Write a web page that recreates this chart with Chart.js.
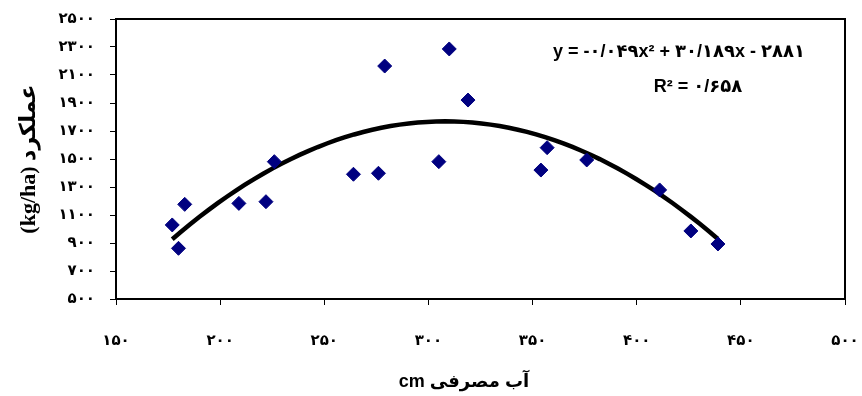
<!DOCTYPE html>
<html>
<head>
<meta charset="utf-8">
<script src="https://cdn.jsdelivr.net/npm/chart.js@4.4.1/dist/chart.umd.min.js"></script>
<style>
  html, body { margin: 0; padding: 0; background: #fff; }
  #wrap { width: 862px; height: 396px; }
</style>
</head>
<body>
<div id="wrap"><canvas id="chart" width="862" height="396"></canvas></div>
<script>
// water used (cm) vs yield (kg/ha)
const waterUsed = [177, 180, 183, 209, 222, 226, 264, 276, 279, 305, 310, 319, 354, 357, 376, 411, 426, 439];
const yieldKg = [1029, 862, 1176, 1183, 1195, 1481, 1391, 1398, 2164, 1481, 2286, 1921, 1421, 1581, 1493, 1279, 986, 893];

// trendline from the equation printed on the chart: a*x^2 + b*x + c
const trendCoef = [-0.049, 30.189, -2881];

const xTickLabels = ["۱۵۰", "۲۰۰", "۲۵۰", "۳۰۰", "۳۵۰", "۴۰۰", "۴۵۰", "۵۰۰"];
const yTickLabels = ["۵۰۰", "۷۰۰", "۹۰۰", "۱۱۰۰", "۱۳۰۰", "۱۵۰۰", "۱۷۰۰", "۱۹۰۰", "۲۱۰۰", "۲۳۰۰", "۲۵۰۰"];

const eqLine1 = "y = -۰/۰۴۹x² + ۳۰/۱۸۹x - ۲۸۸۱";
const eqLine2 = "R² = ۰/۶۵۸";
const xTitle = "آب مصرفی cm";
const yTitle = "(kg/ha) عملکرد";

const trendPts = [];
const xMin = Math.min(...waterUsed), xMax = Math.max(...waterUsed);
for (let i = 0; i <= 60; i++) {
  const x = xMin + (xMax - xMin) * i / 60;
  trendPts.push({ x, y: trendCoef[0] * x * x + trendCoef[1] * x + trendCoef[2] });
}

const frame = {
  id: "frame",
  beforeDatasetsDraw(chart) {
    const { ctx, chartArea: a } = chart;
    ctx.save();
    ctx.strokeStyle = "#000";
    ctx.lineWidth = 2;
    ctx.strokeRect(a.left, a.top, a.right - a.left, a.bottom - a.top);
    ctx.restore();
  },
  afterDraw(chart) {
    const { ctx } = chart;
    ctx.save();
    ctx.fillStyle = "#000";
    ctx.textAlign = "center";
    ctx.textBaseline = "middle";
    ctx.font = 'bold 18px "Liberation Sans", "DejaVu Sans", sans-serif';
    ctx.fillText(eqLine1, 679, 52);
    ctx.fillText(eqLine2, 698, 87);
    ctx.direction = "rtl";
    ctx.fillText(xTitle, 464, 382);
    ctx.restore();
  }
};

const tickFont = { family: '"DejaVu Sans", sans-serif', size: 15, weight: "bold" };

new Chart(document.getElementById("chart").getContext("2d"), {
  type: "scatter",
  data: {
    datasets: [
      {
        label: "trend",
        type: "line",
        data: trendPts,
        borderColor: "#000",
        borderWidth: 4.5,
        pointRadius: 0,
        tension: 0,
        order: 2,
      },
      {
        label: "yield",
        data: waterUsed.map((x, i) => ({ x, y: yieldKg[i] })),
        backgroundColor: "#000080",
        borderColor: "#000080",
        pointStyle: "rectRot",
        pointRadius: 7,
        pointHoverRadius: 7,
        order: 1,
      },
    ],
  },
  options: {
    responsive: false,
    devicePixelRatio: 1,
    animation: false,
    layout: { padding: { top: 19, right: 17, left: 0, bottom: 0 } },
    plugins: { legend: { display: false }, tooltip: { enabled: false } },
    scales: {
      x: {
        type: "linear",
        min: 150,
        max: 500,
        ticks: {
          stepSize: 50,
          color: "#000",
          font: tickFont,
          padding: 27,
          maxRotation: 0,
          callback: (v, i) => xTickLabels[i],
        },
        grid: { drawOnChartArea: false, drawTicks: true, tickLength: 6, color: "#000", lineWidth: 1 },
        border: { display: false },
        afterFit: (s) => { s.height = 97; s.paddingLeft = 0; s.paddingRight = 0; },
      },
      y: {
        min: 500,
        max: 2500,
        ticks: {
          stepSize: 200,
          color: "#000",
          font: tickFont,
          padding: 15,
          callback: (v, i) => yTickLabels[i],
        },
        grid: { drawOnChartArea: false, drawTicks: true, tickLength: 6, color: "#000", lineWidth: 1 },
        border: { display: false },
        title: {
          display: true,
          text: yTitle,
          color: "#000",
          font: { family: '"Liberation Serif", "DejaVu Sans", serif', size: 22, weight: "bold" },
          padding: { top: 16, bottom: 0 },
        },
        afterFit: (s) => { s.width = 116; s.paddingTop = 0; s.paddingBottom = 0; },
      },
    },
  },
  plugins: [frame],
});
</script>
</body>
</html>
